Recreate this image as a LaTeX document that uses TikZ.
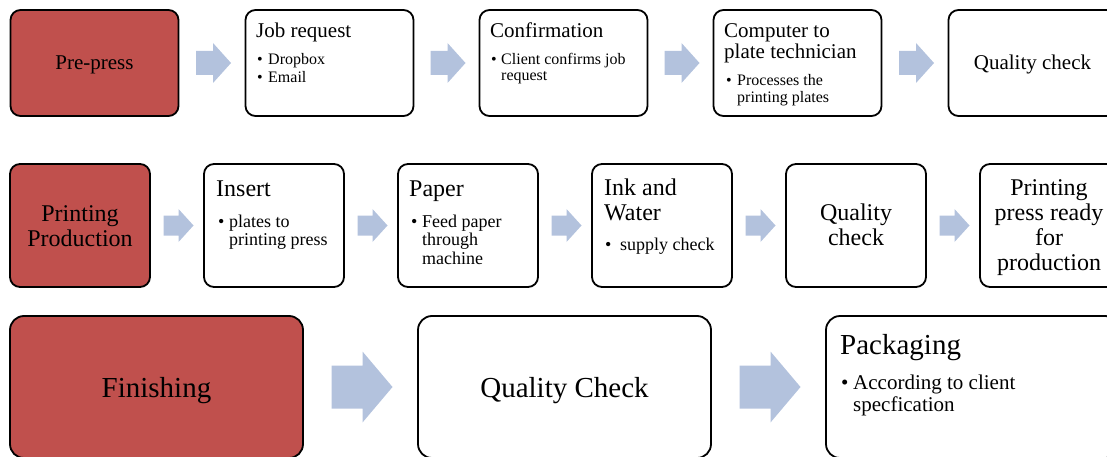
\documentclass[tikz,border=0pt]{standalone}
\usepackage{fontspec}
\setmainfont{Liberation Serif}
\usetikzlibrary{calc}
\definecolor{redfill}{HTML}{C0504D}
\definecolor{arrowfill}{HTML}{B3C2DD}
\tikzset{
 box/.style={draw=black, line width=1.8pt, rounded corners=10pt, fill=white, inner sep=0pt},
 redbox/.style={box, fill=redfill},
 rowA/.style={minimum width=168pt, minimum height=106pt},
 rowB/.style={minimum width=140pt, minimum height=123pt},
 rowC/.style={minimum width=293pt, minimum height=142pt, rounded corners=14pt},
 txt/.style={inner sep=0pt, anchor=base west},
 ctxt/.style={inner sep=0pt, anchor=base},
 hA/.style={font=\fontsize{21}{22}\selectfont},
 bA/.style={font=\fontsize{16}{17}\selectfont},
 hB/.style={font=\fontsize{24}{25}\selectfont},
 bB/.style={font=\fontsize{18}{19}\selectfont},
 hC/.style={font=\fontsize{29}{30}\selectfont},
 bC/.style={font=\fontsize{21}{22}\selectfont},
}
% #1 name, #2 from node, #3 to node, #4 length, #5 head length, #6 shaft half width, #7 head half width
\newcommand{\blockarrow}[7]{%
  \coordinate (#1) at ($(#2.east)!0.5!(#3.west)+(1.5,0)$);
  \fill[arrowfill] ($(#1)+(-#4/2,-#6)$) -- ($(#1)+(#4/2-#5,-#6)$) -- ($(#1)+(#4/2-#5,-#7)$)
    -- ($(#1)+(#4/2,0)$) -- ($(#1)+(#4/2-#5,#7)$) -- ($(#1)+(#4/2-#5,#6)$)
    -- ($(#1)+(-#4/2,#6)$) -- cycle;
}
\begin{document}
\begin{tikzpicture}[x=1pt,y=-1pt]
\useasboundingbox (0,0) rectangle (1107,457);
\clip (0,0) rectangle (1107,457);
% ---------- Row 1 ----------
\node[redbox, rowA] (pre) at (94.5,63) {};
\node[box, rowA] (job) at (329.5,63) {};
\node[box, rowA] (conf) at (563.5,63) {};
\node[box, rowA] (ctp) at (797.5,63) {};
\node[box, rowA] (qcA) at (1032.5,63) {};
\blockarrow{aA1}{pre}{job}{35}{18}{12}{20}
\blockarrow{aA2}{job}{conf}{35}{18}{12}{20}
\blockarrow{aA3}{conf}{ctp}{35}{18}{12}{20}
\blockarrow{aA4}{ctp}{qcA}{35}{18}{12}{20}
\node[ctxt,hA] (preT) at (94.5,69.5) {Pre-press};
\node[txt,hA] (jobH) at (256,37.5) {Job request};
\node[txt,bA] (jobB1) at (257,64.5) {•};
\node[txt,bA] (jobT1) at (268,64.5) {Dropbox};
\node[txt,bA] (jobB2) at (257,83) {•};
\node[txt,bA] (jobT2) at (268,83) {Email};
\node[txt,hA] (confH) at (490,37.5) {Confirmation};
\node[txt,bA] (confB1) at (491,64.5) {•};
\node[txt,bA] (confT1) at (501,64.5) {Client confirms job};
\node[txt,bA] (confT2) at (501,81) {request};
\node[txt,hA] (ctpH1) at (724,37.5) {Computer to};
\node[txt,hA] (ctpH2) at (724,58.5) {plate technician};
\node[txt,bA] (ctpB1) at (726,86) {•};
\node[txt,bA] (ctpT1) at (737,86) {Processes the};
\node[txt,bA] (ctpT2) at (737,102.5) {printing plates};
\node[ctxt,hA] (qcAT) at (1032.5,69.5) {Quality check};
% ---------- Row 2 ----------
\node[redbox, rowB] (prod) at (80,225.5) {};
\node[box, rowB] (ins) at (274,225.5) {};
\node[box, rowB] (pap) at (468,225.5) {};
\node[box, rowB] (ink) at (662,225.5) {};
\node[box, rowB] (qcB) at (856,225.5) {};
\node[box, rowB] (ready) at (1050,225.5) {};
\blockarrow{aB1}{prod}{ins}{30}{15}{10}{16.5}
\blockarrow{aB2}{ins}{pap}{30}{15}{10}{16.5}
\blockarrow{aB3}{pap}{ink}{30}{15}{10}{16.5}
\blockarrow{aB4}{ink}{qcB}{30}{15}{10}{16.5}
\blockarrow{aB5}{qcB}{ready}{30}{15}{10}{16.5}
\node[ctxt,hB] (prodT1) at (80,221.5) {Printing};
\node[ctxt,hB] (prodT2) at (80,246.5) {Production};
\node[txt,hB] (insH) at (216,196) {Insert};
\node[txt,bB] (insB1) at (218,227) {•};
\node[txt,bB] (insT1) at (229,227) {plates to};
\node[txt,bB] (insT2) at (229,245.5) {printing press};
\node[txt,hB] (papH) at (409,196) {Paper};
\node[txt,bB] (papB1) at (411,227) {•};
\node[txt,bB] (papT1) at (422,227) {Feed paper};
\node[txt,bB] (papT2) at (422,245.5) {through};
\node[txt,bB] (papT3) at (422,264) {machine};
\node[txt,hB] (inkH1) at (604,195.5) {Ink and};
\node[txt,hB] (inkH2) at (604,220.5) {Water};
\node[txt,bB] (inkB1) at (605,250) {•};
\node[txt,bB] (inkT1) at (620,250) {supply check};
\node[ctxt,hB] (qcBT1) at (856,220.5) {Quality};
\node[ctxt,hB] (qcBT2) at (856,245.5) {check};
\node[ctxt,hB] (readyT1) at (1049,195.5) {Printing};
\node[ctxt,hB] (readyT2) at (1049,220.5) {press ready};
\node[ctxt,hB] (readyT3) at (1049,245.5) {for};
\node[ctxt,hB] (readyT4) at (1049,270.5) {production};
% ---------- Row 3 ----------
\node[redbox, rowC] (fin) at (156.5,387) {};
\node[box, rowC] (qcC) at (564.5,387) {};
\node[box, rowC] (pack) at (972.5,387) {};
\blockarrow{aC1}{fin}{qcC}{61}{30}{21.5}{35.5}
\blockarrow{aC2}{qcC}{pack}{61}{30}{21.5}{35.5}
\node[ctxt,hC] (finT) at (156.5,397) {Finishing};
\node[ctxt,hC] (qcCT) at (564.5,397) {Quality Check};
\node[txt,hC] (packH) at (840,354) {Packaging};
\node[txt,bC] (packB1) at (841,389) {•};
\node[txt,bC] (packT1) at (853,389) {According to client};
\node[txt,bC] (packT2) at (853,411) {specfication};
\end{tikzpicture}
\end{document}
